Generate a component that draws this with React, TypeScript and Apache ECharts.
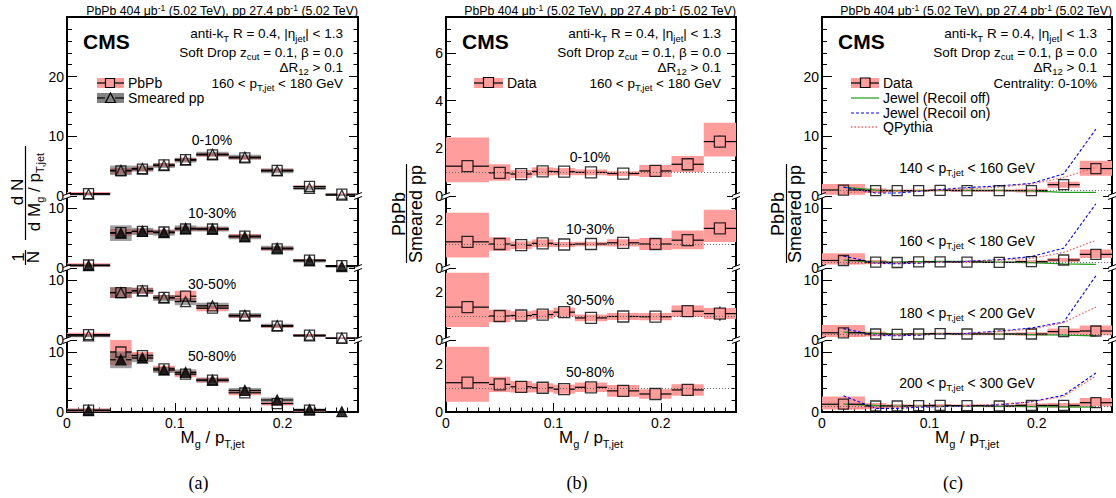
import React, { useEffect, useRef } from "react";
import * as echarts from "echarts";

const FONT = "'Liberation Sans', Arial, Helvetica, sans-serif";
const SERIF = "'Liberation Serif', 'Times New Roman', serif";

// ---------------- data ----------------
const binLow = [0, 0.04, 0.06, 0.08, 0.1, 0.12, 0.15, 0.18, 0.21, 0.24];
const binHigh = [0.04, 0.06, 0.08, 0.1, 0.12, 0.15, 0.18, 0.21, 0.24, 0.27];
const binCenter = [0.02, 0.05, 0.07, 0.09, 0.11, 0.135, 0.165, 0.195, 0.225, 0.255];
const xMin = 0;
const xMax = 0.27;
const ratioReference = 1;

const centralityLabels = ["0-10%", "10-30%", "30-50%", "50-80%"];
const ptLow = [140, 160, 180, 200];
const ptHigh = [160, 180, 200, 300];

// (a) normalized distributions
const pbpbDist = [
  [0.4, 4.2, 4.5, 5.2, 6.1, 6.9, 6.4, 4.3, 1.6, 0.3],
  [0.5, 5.9, 6.1, 6.0, 6.5, 6.5, 5.3, 3.2, 1.3, 0.4],
  [0.9, 7.9, 8.2, 7.1, 7.3, 5.3, 4.0, 2.3, 0.8, 0.3],
  [0.3, 10.0, 9.4, 7.2, 6.3, 5.3, 3.2, 1.4, 0.3, null],
];
const pbpbDistSyst = [
  [0.25, 0.5, 0.35, 0.3, 0.3, 0.3, 0.3, 0.25, 0.15, 0.1],
  [0.3, 0.6, 0.4, 0.35, 0.35, 0.35, 0.35, 0.3, 0.2, 0.1],
  [0.3, 0.9, 0.5, 0.4, 0.9, 0.5, 0.3, 0.25, 0.2, 0.1],
  [0.3, 2.2, 0.6, 0.5, 0.5, 0.4, 0.4, 0.3, 0.2, null],
];
const ppDist = [
  [0.3, 4.3, 4.6, 5.1, 6.0, 7.0, 6.5, 4.2, 1.3, 0.15],
  [0.4, 5.8, 6.1, 5.9, 6.6, 6.5, 5.2, 3.3, 1.2, 0.25],
  [0.7, 7.9, 8.2, 7.0, 6.4, 5.7, 4.1, 2.4, 0.7, 0.3],
  [0.25, 8.7, 9.0, 7.0, 6.6, 5.3, 3.6, 2.0, 0.4, 0.05],
];
const ppDistSyst = [
  [0.2, 0.8, 0.5, 0.4, 0.4, 0.4, 0.4, 0.4, 0.3, 0.15],
  [0.2, 1.3, 0.6, 0.5, 0.5, 0.4, 0.4, 0.4, 0.3, 0.15],
  [0.25, 0.9, 0.5, 0.5, 0.6, 0.5, 0.4, 0.3, 0.2, 0.1],
  [0.3, 1.4, 0.7, 0.5, 0.5, 0.4, 0.4, 0.4, 0.2, 0.1],
];
const ppMarkerFilled = [false, true, false, true];

// (b) PbPb / smeared pp per centrality
const ratioCent = [
  [1.25, 0.97, 0.92, 1.03, 1.02, 0.99, 0.94, 1.05, 1.33, 2.28],
  [1.09, 1.0, 0.95, 1.03, 0.98, 1.0, 1.05, 1.0, 1.16, 1.65],
  [1.37, 1.0, 1.02, 1.06, 1.16, 0.92, 0.98, 0.97, 1.2, 1.1],
  [1.22, 1.15, 1.05, 1.01, 0.95, 1.03, 0.88, 0.75, 0.92, null],
];
const ratioCentUp = [
  [1.2, 0.36, 0.17, 0.17, 0.15, 0.12, 0.1, 0.25, 0.35, 0.79],
  [1.21, 0.28, 0.16, 0.16, 0.11, 0.09, 0.15, 0.25, 0.4, 0.78],
  [1.43, 0.26, 0.18, 0.18, 0.19, 0.14, 0.15, 0.15, 0.24, 0.23],
  [1.5, 0.32, 0.24, 0.19, 0.19, 0.2, 0.24, 0.2, 0.24, null],
];
const ratioCentDown = [
  [0.67, 0.33, 0.17, 0.17, 0.15, 0.12, 0.1, 0.25, 0.32, 0.63],
  [0.65, 0.28, 0.16, 0.16, 0.11, 0.09, 0.15, 0.25, 0.38, 0.57],
  [0.83, 0.26, 0.18, 0.18, 0.19, 0.14, 0.15, 0.15, 0.24, 0.23],
  [0.79, 0.32, 0.24, 0.19, 0.19, 0.2, 0.24, 0.2, 0.24, null],
];
const ratioCentStat = [
  [0.06, 0.03, 0.02, 0.02, 0.02, 0.02, 0.03, 0.05, 0.1, 0.25],
  [0.06, 0.03, 0.02, 0.02, 0.02, 0.02, 0.03, 0.05, 0.1, 0.2],
  [0.08, 0.03, 0.02, 0.02, 0.03, 0.03, 0.03, 0.05, 0.1, 0.3],
  [0.12, 0.05, 0.04, 0.04, 0.04, 0.04, 0.05, 0.06, 0.1, null],
];

// (c) PbPb / smeared pp per jet pT, centrality 0-10%
const ratioPt = [
  [1.0, 0.9, 0.9, 0.9, 0.95, 0.9, 0.9, 0.9, 1.9, 4.6],
  [1.25, 0.97, 0.92, 1.03, 1.02, 0.99, 0.94, 1.05, 1.33, 2.28],
  [1.2, 1.0, 0.95, 1.0, 1.05, 1.0, 1.0, 1.0, 1.4, 1.5],
  [1.3, 1.0, 1.0, 1.05, 1.1, 1.05, 1.0, 1.1, 1.1, 1.55],
];
const ratioPtUp = [
  [1.0, 0.4, 0.2, 0.2, 0.2, 0.2, 0.2, 0.3, 0.5, 1.3],
  [1.2, 0.36, 0.17, 0.17, 0.15, 0.12, 0.1, 0.25, 0.35, 0.79],
  [1.3, 0.4, 0.2, 0.2, 0.2, 0.2, 0.2, 0.3, 0.5, 0.9],
  [1.3, 0.5, 0.3, 0.2, 0.2, 0.2, 0.2, 0.3, 0.4, 0.8],
];
const ratioPtDown = [
  [0.8, 0.4, 0.2, 0.2, 0.2, 0.2, 0.2, 0.3, 0.5, 1.2],
  [0.67, 0.33, 0.17, 0.17, 0.15, 0.12, 0.1, 0.25, 0.32, 0.63],
  [0.7, 0.4, 0.2, 0.2, 0.2, 0.2, 0.2, 0.3, 0.5, 0.7],
  [0.9, 0.5, 0.3, 0.2, 0.2, 0.2, 0.2, 0.3, 0.4, 0.6],
];
const ratioPtStat = [
  [0.1, 0.05, 0.04, 0.04, 0.04, 0.04, 0.05, 0.1, 0.2, 0.5],
  [0.06, 0.03, 0.02, 0.02, 0.02, 0.02, 0.03, 0.05, 0.1, 0.25],
  [0.06, 0.03, 0.02, 0.02, 0.02, 0.02, 0.03, 0.05, 0.1, 0.2],
  [0.05, 0.03, 0.02, 0.02, 0.02, 0.02, 0.03, 0.05, 0.1, 0.2],
];
const jewelRecoilOff = [
  [1.5, 1.0, 0.9, 0.9, 0.95, 0.95, 0.95, 0.85, 0.6, 0.6],
  [1.3, 1.0, 1.0, 1.05, 1.1, 1.1, 1.0, 0.9, 0.7, 0.6],
  [1.3, 1.1, 1.0, 1.0, 1.05, 1.0, 1.0, 0.9, 0.8, 0.7],
  [1.3, 1.1, 1.0, 1.0, 1.0, 1.0, 0.95, 0.9, 0.85, 0.8],
];
const jewelRecoilOn = [
  [1.5, 0.5, 0.5, 0.8, 1.1, 1.4, 1.7, 2.1, 3.7, 11.2],
  [2.0, 0.8, 0.7, 0.8, 1.0, 1.1, 1.4, 1.9, 3.3, 10.7],
  [1.9, 0.8, 0.7, 0.8, 1.0, 1.1, 1.5, 2.0, 3.0, 10.7],
  [2.7, 0.6, 0.6, 0.8, 0.9, 1.0, 1.2, 1.7, 2.8, 6.5],
];
const qPythia = [
  [0.6, 0.7, 0.8, 0.9, 1.0, 1.2, 1.5, 2.0, 3.1, 4.8],
  [0.7, 0.8, 0.85, 0.9, 1.0, 1.1, 1.3, 1.6, 2.6, 4.6],
  [0.6, 0.8, 0.85, 0.9, 1.0, 1.1, 1.4, 1.8, 2.9, 5.5],
  [0.5, 0.8, 0.9, 0.9, 1.0, 1.1, 1.3, 1.7, 2.6, 6.0],
];

// ---------------- layout / style ----------------
const PANELS = [
  { left: 67, right: 358, caption: "(a)" },
  { left: 446, right: 736, caption: "(b)" },
  { left: 822, right: 1112, caption: "(c)" },
];
const SUB_TOP = [17, 196, 268, 340];
const SUB_BOTTOM = [196, 268, 340, 412];
const PINK = "#ff9d9d";
const GRAYBAND = "rgba(80,80,80,0.55)";
const GREEN = "#1f9a1f";
const BLUE = "#0000ff";
const RED = "#ff5c5c";

function rich(fs: number, sfs: number, drop: number, rise: number) {
  const base = { fontFamily: FONT, fill: "#000", verticalAlign: "top" };
  return {
    n: { ...base, fontSize: fs, lineHeight: fs, padding: [4, 0, 0, 0] },
    sub: { ...base, fontSize: sfs, lineHeight: sfs, padding: [Math.max(0, 4 + fs / 2 + drop - sfs / 2), 0, 0, 0] },
    sup: { ...base, fontSize: sfs, lineHeight: sfs, padding: [Math.max(0, 4 + fs / 2 - rise - sfs / 2), 0, 0, 0] },
  };
}

function txt(x: number, yc: number, text: string, fs: number, align: string, opt: any = {}) {
  const sfs = opt.sfs ?? Math.round(fs * 0.68);
  const drop = opt.drop ?? fs * 0.4;
  const rise = opt.rise ?? fs * 0.45;
  const rot = opt.rotation ?? 0;
  const off = 4 + fs / 2;
  return {
    type: "text",
    z: 100,
    x: rot ? x - off : x,
    y: rot ? yc : yc - off,
    rotation: rot,
    silent: true,
    style: {
      text,
      rich: rich(fs, sfs, drop, rise),
      fontFamily: FONT,
      fontSize: fs,
      fontWeight: opt.bold ? "bold" : "normal",
      fill: "#000",
      align,
      textAlign: align,
      verticalAlign: "top",
      textVerticalAlign: "top",
    },
  };
}

function plain(x: number, y: number, text: string, fs: number, align: string, opt: any = {}) {
  return {
    type: "text",
    z: 100,
    x,
    y,
    rotation: opt.rotation ?? 0,
    silent: true,
    style: {
      text,
      fontFamily: opt.family ?? FONT,
      fontSize: fs,
      fontWeight: opt.bold ? "bold" : "normal",
      fill: "#000",
      align,
      textAlign: align,
      verticalAlign: "middle",
      textVerticalAlign: "middle",
    },
  };
}

function gline(x1: number, y1: number, x2: number, y2: number, stroke = "#000", w = 1.2, dash: any = null) {
  return {
    type: "line",
    z: 100,
    silent: true,
    shape: { x1, y1, x2, y2 },
    style: { stroke, lineWidth: w, lineDash: dash },
  };
}

function grect(x: number, y: number, w: number, h: number, fill: string) {
  return { type: "rect", z: 99, silent: true, shape: { x, y, width: w, height: h }, style: { fill } };
}

function fmtX(v: number) {
  return String(Math.round(v * 10) / 10);
}
function fmtY(v: number) {
  return String(Math.round(v * 10) / 10);
}

function mainXAxis(g: number, bottom: boolean) {
  return {
    type: "value",
    gridIndex: g,
    min: xMin,
    max: xMax,
    interval: 0.1,
    position: "bottom",
    splitLine: { show: false },
    axisLine: { show: bottom, onZero: false, lineStyle: { color: "#000", width: 2 } },
    axisTick: { show: bottom, inside: true, length: 9, lineStyle: { color: "#000", width: 1 } },
    axisLabel: {
      show: bottom,
      margin: 4,
      fontSize: 14,
      color: "#000",
      fontFamily: FONT,
      showMaxLabel: false,
      formatter: fmtX,
    },
  };
}
function minorXAxis(g: number) {
  return {
    type: "value",
    gridIndex: g,
    min: xMin,
    max: xMax,
    interval: 0.01,
    position: "bottom",
    splitLine: { show: false },
    axisLine: { show: false, onZero: false },
    axisTick: { show: true, inside: true, length: 4.5, lineStyle: { color: "#000", width: 1 } },
    axisLabel: { show: false },
  };
}
function topXAxis(g: number) {
  return {
    type: "value",
    gridIndex: g,
    min: xMin,
    max: xMax,
    interval: 0.1,
    position: "top",
    splitLine: { show: false },
    axisLine: { show: true, onZero: false, lineStyle: { color: "#000", width: 2 } },
    axisTick: { show: false },
    axisLabel: { show: false },
  };
}
function yAxesFor(g: number, max: number, major: number, minor: number) {
  const common = { type: "value", gridIndex: g, min: 0, max, splitLine: { show: false } };
  const line = { show: true, onZero: false, lineStyle: { color: "#000", width: 2 } };
  return [
    {
      ...common,
      position: "left",
      interval: major,
      axisLine: line,
      axisTick: { show: true, inside: true, length: 10, lineStyle: { color: "#000", width: 1 } },
      axisLabel: { show: true, margin: 3, fontSize: 14, color: "#000", fontFamily: FONT, showMaxLabel: false, showMinLabel: true, formatter: fmtY },
    },
    {
      ...common,
      position: "right",
      interval: major,
      axisLine: line,
      axisTick: { show: true, inside: true, length: 9, lineStyle: { color: "#000", width: 1 } },
      axisLabel: { show: false },
    },
    {
      ...common,
      position: "left",
      interval: minor,
      axisLine: { show: false, onZero: false },
      axisTick: { show: true, inside: true, length: 5, lineStyle: { color: "#000", width: 1 } },
      axisLabel: { show: false },
    },
    {
      ...common,
      position: "right",
      interval: minor,
      axisLine: { show: false, onZero: false },
      axisTick: { show: true, inside: true, length: 4.5, lineStyle: { color: "#000", width: 1 } },
      axisLabel: { show: false },
    },
  ];
}

function bandSeries(xi: number, yi: number, vals: any[], up: any[], down: any[], color: string, z: number) {
  const data: any[] = [];
  vals.forEach((v, i) => {
    if (v == null) return;
    data.push([binLow[i], binHigh[i], v - down[i], v + up[i]]);
  });
  return {
    type: "custom",
    xAxisIndex: xi,
    yAxisIndex: yi,
    z,
    silent: true,
    clip: true,
    data,
    renderItem: (params: any, api: any) => {
      const p1 = api.coord([api.value(0), api.value(3)]);
      const p2 = api.coord([api.value(1), api.value(2)]);
      return {
        type: "rect",
        shape: { x: p1[0], y: p1[1], width: p2[0] - p1[0], height: p2[1] - p1[1] },
        style: { fill: color },
      };
    },
  };
}

function errSeries(xi: number, yi: number, vals: any[], stat: any[] | null, half: number, z: number, color = "#000") {
  const data: any[] = [];
  vals.forEach((v, i) => {
    if (v == null) return;
    data.push([binCenter[i], binLow[i], binHigh[i], v, stat ? stat[i] : 0]);
  });
  return {
    type: "custom",
    xAxisIndex: xi,
    yAxisIndex: yi,
    z,
    silent: true,
    data,
    renderItem: (params: any, api: any) => {
      const x = api.value(0);
      const y = api.value(3);
      const st = api.value(4);
      const c = api.coord([x, y]);
      const a = api.coord([api.value(1), y]);
      const b = api.coord([api.value(2), y]);
      const style = { stroke: color, lineWidth: 1.2 };
      const children: any[] = [
        { type: "line", shape: { x1: a[0], y1: c[1], x2: c[0] - half, y2: c[1] }, style },
        { type: "line", shape: { x1: c[0] + half, y1: c[1], x2: b[0], y2: c[1] }, style },
      ];
      if (st > 0) {
        const t = api.coord([x, y + st]);
        const bt = api.coord([x, y - st]);
        if (c[1] - t[1] > half) children.push({ type: "line", shape: { x1: c[0], y1: t[1], x2: c[0], y2: c[1] - half }, style });
        if (bt[1] - c[1] > half) children.push({ type: "line", shape: { x1: c[0], y1: c[1] + half, x2: c[0], y2: bt[1] }, style });
      }
      return { type: "group", children };
    },
  };
}

function markerSeries(xi: number, yi: number, vals: any[], symbol: string, size: number, filled: boolean, z: number, withRef = false) {
  const data: any[] = [];
  vals.forEach((v, i) => {
    if (v == null) return;
    data.push([binCenter[i], v]);
  });
  const s: any = {
    type: "scatter",
    xAxisIndex: xi,
    yAxisIndex: yi,
    z,
    silent: true,
    symbol,
    symbolSize: size,
    itemStyle: { color: filled ? "#000" : "rgba(0,0,0,0)", borderColor: "#000", borderWidth: 1.3 },
    data,
  };
  if (withRef) {
    s.markLine = {
      silent: true,
      symbol: "none",
      label: { show: false },
      lineStyle: { color: "#666", type: [1, 2], width: 1 },
      data: [{ yAxis: ratioReference }],
    };
  }
  return s;
}

function modelSeries(xi: number, yi: number, vals: number[], color: string, type: any, width: number, z: number) {
  return {
    type: "line",
    xAxisIndex: xi,
    yAxisIndex: yi,
    z,
    silent: true,
    showSymbol: false,
    symbol: "none",
    lineStyle: { color, type, width },
    data: vals.map((v, i) => [binCenter[i], v]),
  };
}

function buildOption() {
  const grid: any[] = [];
  const xAxis: any[] = [];
  const yAxis: any[] = [];
  const series: any[] = [];
  const graphic: any[] = [];
  const SUBOPT = { sfs: 9.5, drop: 4.5 };

  PANELS.forEach((P, p) => {
    for (let s = 0; s < 4; s++) {
      const g = grid.length;
      grid.push({ left: P.left, top: SUB_TOP[s], width: P.right - P.left, height: SUB_BOTTOM[s] - SUB_TOP[s] });
      const xi = xAxis.length;
      xAxis.push(mainXAxis(g, s === 3));
      if (s === 3) xAxis.push(minorXAxis(g));
      if (s === 0) xAxis.push(topXAxis(g));
      const yi = yAxis.length;
      const isRatio = p === 1;
      const ymax = isRatio ? (s === 0 ? 7.5 : 3) : s === 0 ? 30 : 12;
      yAxis.push(...yAxesFor(g, ymax, isRatio ? 2 : 10, isRatio ? 0.5 : 2));

      if (p === 0) {
        series.push(bandSeries(xi, yi, pbpbDist[s], pbpbDistSyst[s], pbpbDistSyst[s], PINK, 1));
        series.push(bandSeries(xi, yi, ppDist[s], ppDistSyst[s], ppDistSyst[s], GRAYBAND, 2));
        series.push(errSeries(xi, yi, pbpbDist[s], null, 5, 3));
        series.push(errSeries(xi, yi, ppDist[s], null, 5, 3));
        series.push(markerSeries(xi, yi, pbpbDist[s], "rect", 10, false, 5));
        series.push(markerSeries(xi, yi, ppDist[s], "triangle", 10, ppMarkerFilled[s], 6));
      } else if (p === 1) {
        series.push(bandSeries(xi, yi, ratioCent[s], ratioCentUp[s], ratioCentDown[s], PINK, 1));
        series.push(errSeries(xi, yi, ratioCent[s], ratioCentStat[s], 5.5, 3));
        series.push(markerSeries(xi, yi, ratioCent[s], "rect", 11, false, 5, true));
      } else {
        series.push(bandSeries(xi, yi, ratioPt[s], ratioPtUp[s], ratioPtDown[s], PINK, 1));
        series.push(modelSeries(xi, yi, jewelRecoilOff[s], GREEN, "solid", 1.2, 2));
        series.push(modelSeries(xi, yi, jewelRecoilOn[s], BLUE, [3, 2], 1.1, 2));
        series.push(modelSeries(xi, yi, qPythia[s], RED, [1.5, 2], 1.3, 2));
        series.push(errSeries(xi, yi, ratioPt[s], ratioPtStat[s], 5, 3));
        series.push(markerSeries(xi, yi, ratioPt[s], "rect", 10, false, 5, true));
      }
    }

    // break marks
    [P.left, P.right].forEach((bx) => {
      [196, 268, 340].forEach((by) => {
        graphic.push(grect(bx - 3, by - 2, 6, 4, "#fff"));
        graphic.push(gline(bx - 4, by - 0.5, bx + 4, by - 3.5, "#000", 1));
        graphic.push(gline(bx - 4, by + 3.5, bx + 4, by + 0.5, "#000", 1));
      });
    });

    // header
    graphic.push(
      txt(P.right, 11.5, "{n|PbPb 404 μb}{sup|-1}{n| (5.02 TeV), pp 27.4 pb}{sup|-1}{n| (5.02 TeV)}", 12.3, "right", { sfs: 8.5, rise: 4 })
    );
    // CMS
    graphic.push(plain(P.left + 16, 41, "CMS", 21, "left", { bold: true }));
    // info block
    const ix = P.right - 15;
    graphic.push(txt(ix, 33.5, "{n|anti-k}{sub|T}{n| R = 0.4, |η}{sub|jet}{n|| < 1.3}", 13.5, "right", SUBOPT));
    graphic.push(txt(ix, 52, "{n|Soft Drop z}{sub|cut}{n| = 0.1, β = 0.0}", 13.5, "right", SUBOPT));
    graphic.push(txt(ix, 67, "{n|ΔR}{sub|12}{n| > 0.1}", 13.5, "right", SUBOPT));
    if (p < 2) {
      graphic.push(txt(ix, 83, "{n|160 < p}{sub|T,jet}{n| < 180 GeV}", 13.5, "right", SUBOPT));
    } else {
      graphic.push(txt(ix, 83, "{n|Centrality: 0-10%}", 13.5, "right"));
    }

    // sub-panel labels
    const cx = P.left + (p === 1 ? 144 : 145);
    const labelY = p === 0 ? [140, 213, 284, 356] : p === 1 ? [157, 229, 300, 372] : [168, 241, 313, 383];
    for (let s = 0; s < 4; s++) {
      if (p < 2) {
        graphic.push(txt(cx, labelY[s], `{n|${centralityLabels[s]}}`, 14, "center"));
      } else {
        graphic.push(txt(cx, labelY[s], `{n|${ptLow[s]} < p}{sub|T,jet}{n| < ${ptHigh[s]} GeV}`, 14, "center", SUBOPT));
      }
    }

    // x-axis title
    const mid = (P.left + P.right) / 2;
    graphic.push(txt(mid, 437, "{n|M}{sub|g}{n| / p}{sub|T,jet}", 17, "center", { sfs: 11, drop: 7 }));
    // caption
    graphic.push(plain(mid - 14, 483, P.caption, 18, "center", { family: SERIF }));
  });

  // legends
  // (a)
  graphic.push(grect(97, 78, 27, 10, PINK));
  graphic.push(gline(97, 83, 105, 83));
  graphic.push(gline(115, 83, 124, 83));
  graphic.push({ type: "rect", z: 101, silent: true, shape: { x: 105.5, y: 78.5, width: 9, height: 9 }, style: { fill: "none", stroke: "#000", lineWidth: 1.2 } });
  graphic.push(txt(128, 83, "{n|PbPb}", 14, "left"));
  graphic.push(grect(97, 93, 27, 10, "rgba(90,90,90,0.75)"));
  graphic.push(gline(97, 98, 105, 98));
  graphic.push(gline(115, 98, 124, 98));
  graphic.push({ type: "polygon", z: 101, silent: true, shape: { points: [[110.5, 93], [115.5, 102.5], [105.5, 102.5]] }, style: { fill: "none", stroke: "#000", lineWidth: 1.2 } });
  graphic.push(txt(128, 98, "{n|Smeared pp}", 14, "left"));
  // (b)
  graphic.push(grect(474, 78, 29, 10, PINK));
  graphic.push(gline(474, 83, 483, 83));
  graphic.push(gline(494, 83, 503, 83));
  graphic.push({ type: "rect", z: 101, silent: true, shape: { x: 483.5, y: 77.5, width: 10, height: 10 }, style: { fill: "none", stroke: "#000", lineWidth: 1.2 } });
  graphic.push(txt(507, 83, "{n|Data}", 14, "left"));
  // (c)
  graphic.push(grect(851, 78, 28, 10, PINK));
  graphic.push(gline(851, 83, 860, 83));
  graphic.push(gline(870, 83, 879, 83));
  graphic.push({ type: "rect", z: 101, silent: true, shape: { x: 860.5, y: 78, width: 9.5, height: 9.5 }, style: { fill: "none", stroke: "#000", lineWidth: 1.2 } });
  graphic.push(txt(883, 83, "{n|Data}", 14, "left"));
  graphic.push(gline(851, 98, 879, 98, GREEN, 1.2));
  graphic.push(txt(883, 98, "{n|Jewel (Recoil off)}", 14, "left"));
  graphic.push(gline(851, 113, 879, 113, BLUE, 1.1, [3, 2]));
  graphic.push(txt(883, 113, "{n|Jewel (Recoil on)}", 14, "left"));
  graphic.push(gline(851, 127, 879, 127, RED, 1.3, [1.5, 2]));
  graphic.push(txt(883, 127, "{n|QPythia}", 14, "left"));

  // y-axis titles
  // (a)
  graphic.push(plain(18, 257, "1", 17, "center", { rotation: Math.PI / 2 }));
  graphic.push(plain(33, 257, "N", 17, "center", { rotation: Math.PI / 2 }));
  graphic.push(gline(25.5, 250, 25.5, 265));
  graphic.push(plain(17, 192, "d N", 17, "center", { rotation: Math.PI / 2 }));
  graphic.push(txt(34, 192, "{n|d M}{sub|g}{n| / p}{sub|T,jet}", 17, "center", { sfs: 11, drop: 6, rotation: Math.PI / 2 }));
  graphic.push(gline(25.5, 146, 25.5, 240));
  // (b)
  graphic.push(plain(399, 214, "PbPb", 18, "center", { rotation: Math.PI / 2 }));
  graphic.push(plain(416, 214, "Smeared pp", 18, "center", { rotation: Math.PI / 2 }));
  graphic.push(gline(406.5, 164, 406.5, 263));
  // (c)
  graphic.push(plain(778, 214, "PbPb", 18, "center", { rotation: Math.PI / 2 }));
  graphic.push(plain(795, 214, "Smeared pp", 18, "center", { rotation: Math.PI / 2 }));
  graphic.push(gline(786.5, 164, 786.5, 263));

  return {
    animation: false,
    backgroundColor: "#fff",
    textStyle: { fontFamily: FONT },
    grid,
    xAxis,
    yAxis,
    series,
    graphic: { elements: graphic },
  };
}

export default function App() {
  const ref = useRef<HTMLDivElement>(null);
  useEffect(() => {
    const chart = echarts.init(ref.current as HTMLDivElement, null, { renderer: "svg" });
    chart.setOption(buildOption() as any);
    return () => chart.dispose();
  }, []);
  return (
    <div
      ref={ref}
      style={{ position: "fixed", left: 0, top: 0, width: 1116, height: 498, background: "#fff" }}
    />
  );
}
